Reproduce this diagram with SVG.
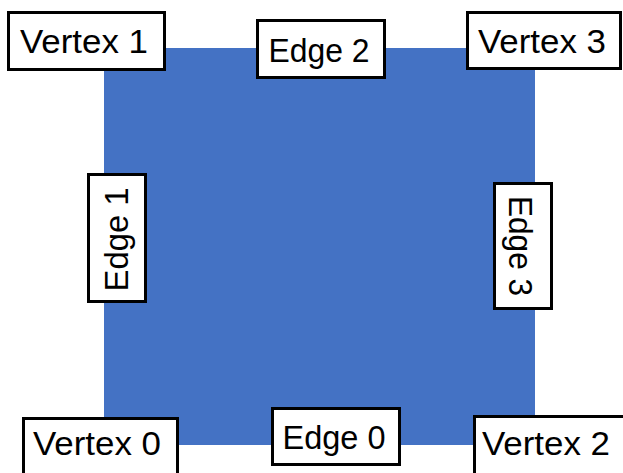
<svg xmlns="http://www.w3.org/2000/svg" width="623" height="473" viewBox="0 0 623 473">
  <style>
    .face { fill: #4472C4; }
    .box { fill: #ffffff; stroke: #000000; stroke-width: 3; }
    .lbl { font-family: "Liberation Sans", Arial, sans-serif; font-size: 34px; fill: #000000; text-anchor: middle; }
  </style>
  <!-- square face -->
  <g id="face">
    <rect class="face" x="104" y="48" width="431" height="397"/>
  </g>
  <g id="connectors"/>
  <!-- vertex labels -->
  <g id="vertex1">
    <rect class="box" x="8.5" y="12.5" width="156" height="57"/>
    <text class="lbl" x="84" y="53" textLength="128" lengthAdjust="spacingAndGlyphs">Vertex 1</text>
  </g>
  <g id="vertex3">
    <rect class="box" x="467.5" y="12.5" width="153" height="56"/>
    <text class="lbl" x="542" y="53" textLength="128" lengthAdjust="spacingAndGlyphs">Vertex 3</text>
  </g>
  <g id="vertex0">
    <rect class="box" x="23.5" y="418.5" width="154" height="60"/>
    <text class="lbl" x="97" y="455" textLength="128" lengthAdjust="spacingAndGlyphs">Vertex 0</text>
  </g>
  <g id="vertex2">
    <rect class="box" x="474.5" y="416.5" width="160" height="60"/>
    <text class="lbl" x="546" y="455" textLength="128" lengthAdjust="spacingAndGlyphs">Vertex 2</text>
  </g>
  <!-- edge labels -->
  <g id="edge2">
    <rect class="box" x="257.5" y="20.5" width="127" height="57"/>
    <text class="lbl" x="319" y="62" textLength="101" lengthAdjust="spacingAndGlyphs">Edge 2</text>
  </g>
  <g id="edge0">
    <rect class="box" x="272.5" y="408.5" width="127" height="56"/>
    <text class="lbl" x="334" y="449" textLength="103" lengthAdjust="spacingAndGlyphs">Edge 0</text>
  </g>
  <g id="edge1">
    <rect class="box" x="88.5" y="174.5" width="57" height="127"/>
    <text class="lbl" transform="translate(128 239.5) rotate(-90)" x="0" y="0" textLength="104" lengthAdjust="spacingAndGlyphs">Edge 1</text>
  </g>
  <g id="edge3">
    <rect class="box" x="494.5" y="183.5" width="57" height="125"/>
    <text class="lbl" transform="translate(509 246) rotate(90)" x="0" y="0" textLength="100" lengthAdjust="spacingAndGlyphs">Edge 3</text>
  </g>
</svg>
